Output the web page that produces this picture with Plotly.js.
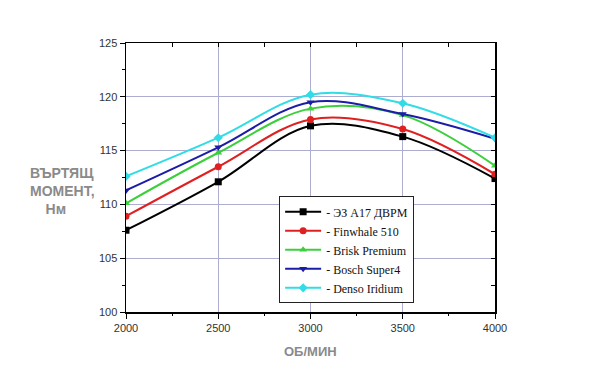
<!DOCTYPE html>
<html><head><meta charset="utf-8">
<script src="https://cdn.plot.ly/plotly-3.0.1.min.js"></script>
<style>body{margin:0;background:#fff}#c{width:600px;height:375px}</style>
</head><body><div id="c"></div>
<script>
var rpm = [2000, 2500, 3000, 3500, 4000];
var names = ['- ЭЗ А17 ДВРМ', '- Finwhale 510', '- Brisk Premium', '- Bosch Super4', '- Denso Iridium'];
var s1 = [107.6, 112.1, 117.3, 116.3, 112.4];
var s2 = [108.9, 113.5, 117.9, 117.0, 112.8];
var s3 = [110.1, 114.8, 118.9, 118.3, 113.6];
var s4 = [111.3, 115.3, 119.5, 118.4, 116.1];
var s5 = [112.6, 116.2, 120.2, 119.4, 116.2];
var yTicks = [100, 105, 110, 115, 120, 125];
var xTicks = [2000, 2500, 3000, 3500, 4000];
var xMinor = [2250, 2750, 3250, 3750];
var yMinor = [102.5, 107.5, 112.5, 117.5, 122.5];

var series = [s1, s2, s3, s4, s5];
var colors = ['#000000', '#e02020', '#3ccf3c', '#1c1ca8', '#30dde6'];
var symbols = ['square', 'circle', 'triangle-up', 'triangle-down', 'diamond'];
var traces = series.map(function(s, i){
  return {x: rpm, y: s, name: names[i], type: 'scatter', mode: 'lines+markers',
    line: {color: colors[i], width: 2, shape: 'spline', smoothing: 1.0},
    marker: {color: colors[i], symbol: symbols[i], size: 7}};
});
// helper subplots for minor ticks and inside ticks on top/right
traces.push({x: [xTicks[0]], y: [yTicks[0]], xaxis: 'x2', yaxis: 'y2', mode: 'markers',
  marker: {opacity: 0}, showlegend: false, hoverinfo: 'skip'});
traces.push({x: [xTicks[0]], y: [yTicks[0]], xaxis: 'x3', yaxis: 'y3', mode: 'markers',
  marker: {opacity: 0}, showlegend: false, hoverinfo: 'skip'});

var tickFont = {family: 'Liberation Sans, Arial, sans-serif', size: 11, color: '#333'};
function helperAxis(over, side, range, vals, dir, len) {
  return {overlaying: over, side: side, range: range, tickmode: 'array', tickvals: vals,
    showticklabels: false, showgrid: false, zeroline: false, showline: false,
    ticks: dir, ticklen: len, tickcolor: '#000', tickwidth: 1};
}
var layout = {
  width: 600, height: 375,
  margin: {l: 126, r: 105, t: 43, b: 63},
  paper_bgcolor: '#fff', plot_bgcolor: '#fff',
  showlegend: true,
  xaxis: {range: [2000, 4000], tickmode: 'array', tickvals: xTicks, ticktext: xTicks.map(String),
    showgrid: true, gridcolor: '#adadd2', gridwidth: 1, zeroline: false,
    showline: true, linecolor: '#000', linewidth: 1.5, mirror: true,
    ticks: 'outside', ticklen: 5, tickcolor: '#000', tickfont: tickFont},
  yaxis: {range: [100, 125], tickmode: 'array', tickvals: yTicks, ticktext: yTicks.map(String),
    showgrid: true, gridcolor: '#adadd2', gridwidth: 1, zeroline: false,
    showline: true, linecolor: '#000', linewidth: 1.5, mirror: true,
    ticks: 'outside', ticklen: 5, tickcolor: '#000', tickfont: tickFont},
  xaxis2: helperAxis('x', 'top', [2000, 4000], xTicks.concat(xMinor), 'inside', 4),
  yaxis2: helperAxis('y', 'right', [100, 125], yTicks.concat(yMinor), 'inside', 4),
  xaxis3: helperAxis('x', 'bottom', [2000, 4000], xMinor, 'outside', 3),
  yaxis3: helperAxis('y', 'left', [100, 125], yMinor, 'outside', 3),
  legend: {x: 0.415, y: 0.43, xanchor: 'left', yanchor: 'top',
    bgcolor: '#fff', bordercolor: '#222', borderwidth: 1,
    font: {family: '"Liberation Serif", "Times New Roman", serif', size: 12, color: '#111'},
    tracegroupgap: 0, itemwidth: 36},
  annotations: [
    {text: '<b>ВЪРТЯЩ<br>МОМЕНТ,<br>    Нм</b>', xref: 'paper', yref: 'paper',
     x: -0.172, y: 0.448, xanchor: 'center', yanchor: 'middle', showarrow: false, align: 'left',
     font: {family: 'Liberation Sans, Arial, sans-serif', size: 14, color: '#8a8a8a'}},
    {text: '<b>ОБ/МИН</b>', xref: 'paper', yref: 'paper',
     x: 0.501, y: -0.112, xanchor: 'center', yanchor: 'top', showarrow: false,
     font: {family: 'Liberation Sans, Arial, sans-serif', size: 13, color: '#8a8a8a'}}
  ]
};
Plotly.newPlot('c', traces, layout, {displayModeBar: false, staticPlot: true});
</script></body></html>
